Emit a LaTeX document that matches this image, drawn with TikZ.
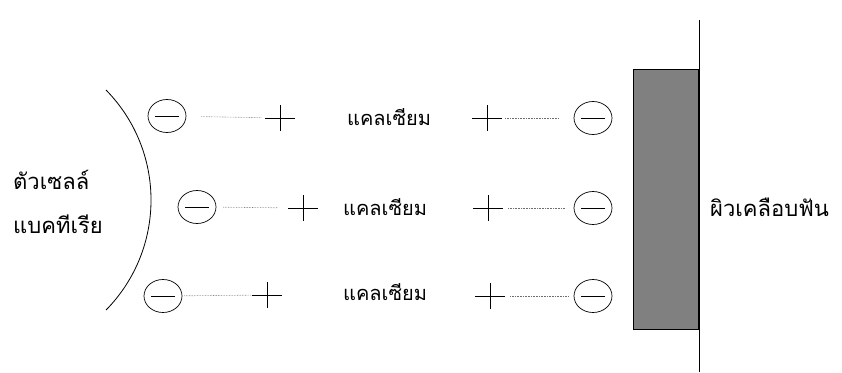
\documentclass[tikz,border=0pt]{standalone}
\usepackage{fontspec}
\newfontfamily\thaifont[Script=Thai]{Loma}
\usepackage{xcolor}
\usetikzlibrary{shapes.geometric,positioning}
\definecolor{Enamel_Gray}{HTML}{808080}
\definecolor{Bond_Gray}{HTML}{6E6E6E}

\begin{document}
\begin{tikzpicture}[x=1pt, y=-1pt,
    ion/.style={draw, ellipse, line width=0.7pt, minimum width=38pt, minimum height=33pt, inner sep=0pt,
        path picture={\draw[line width=0.7pt] ([xshift=7pt]path picture bounding box.west) -- ([xshift=-7pt]path picture bounding box.east);}},
    plussign/.style={minimum width=30pt, minimum height=26pt, inner sep=0pt,
        path picture={\draw (path picture bounding box.north) -- (path picture bounding box.south)
            (path picture bounding box.west) -- (path picture bounding box.east);}},
    thaitext/.style={font=\thaifont\fontsize{20}{24}\selectfont, inner sep=0pt, anchor=west},
    bond/.style={densely dotted, Bond_Gray, line width=0.6pt}]
    \useasboundingbox (0,0) rectangle (842,372);

    % Bacterial cell wall
    \draw[line width=0.8pt] (106,90) arc[start angle=-44.5, end angle=44.5, radius=157];
    \node[thaitext, font=\thaifont\fontsize{22}{26}\selectfont] (cell1) at (13,180) {ตัวเซลล์};
    \node[thaitext, font=\thaifont\fontsize{22}{26}\selectfont] (cell2) at (13,224) {แบคทีเรีย};

    % Enamel surface
    \draw[line width=0.8pt, fill=Enamel_Gray] (633,69) rectangle (698,329);
    \draw[line width=0.8pt] (699,20) -- (699,372);
    \node[thaitext, font=\thaifont\fontsize{22}{26}\selectfont] (enamel) at (710,207) {ผิวเคลือบฟัน};

    % Row 1
    \node[ion] (l1) at (167,116) {};
    \node[plussign] (pl1) at (280,118) {};
    \node[thaitext] (ca1) at (347,117) {แคลเซียม};
    \node[plussign] (pr1) at (487,118) {};
    \node[ion] (r1) at (593,118) {};
    \draw[bond, shorten <=15pt, shorten >=3pt] (l1) -- (pl1);
    \draw[bond, shorten <=3pt, shorten >=15pt] (pr1) -- (r1);

    % Row 2
    \node[ion] (l2) at (197,207) {};
    \node[plussign] (pl2) at (303,208) {};
    \node[thaitext] (ca2) at (343,207) {แคลเซียม};
    \node[plussign] (pr2) at (488,208) {};
    \node[ion] (r2) at (593,208) {};
    \draw[bond, shorten <=7pt, shorten >=10pt] (l2) -- (pl2);
    \draw[bond, shorten <=5pt, shorten >=9pt] (pr2) -- (r2);

    % Row 3
    \node[ion] (l3) at (163,296) {};
    \node[plussign] (pl3) at (267,295) {};
    \node[thaitext] (ca3) at (343,292) {แคลเซียม};
    \node[plussign] (pr3) at (490,296) {};
    \node[ion] (r3) at (593,296) {};
    \draw[bond, shorten <=2pt] (l3) -- (pl3);
    \draw[bond, shorten <=5pt, shorten >=5pt] (pr3) -- (r3);

\end{tikzpicture}
\end{document}
